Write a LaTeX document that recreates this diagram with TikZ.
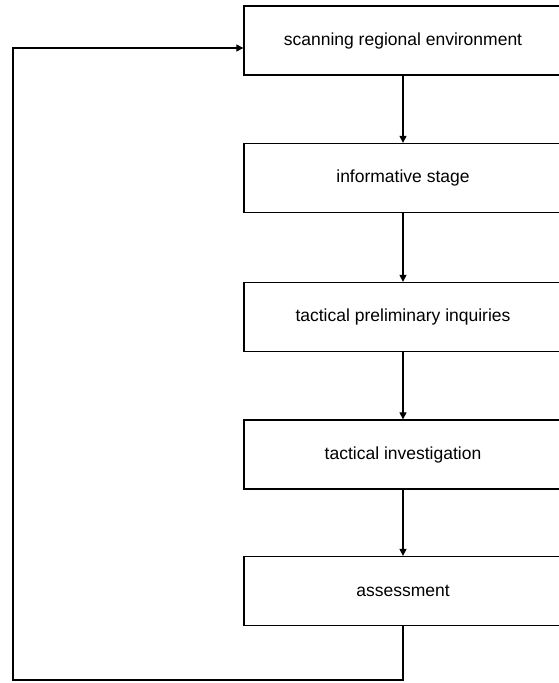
\documentclass[tikz,border=0pt]{standalone}
\usepackage{fontspec}
\setmainfont{Liberation Sans}
\usetikzlibrary{arrows.meta}
\begin{document}
\begin{tikzpicture}[x=1pt,y=-1pt,
  stagebox/.style={draw, line width=1.3pt, minimum width=318pt, minimum height=69pt,
    inner sep=0pt, font=\fontsize{17.5}{20}\selectfont, anchor=center},
  link/.style={line width=1.2pt, -{Triangle[length=7pt,width=7pt]}}]
\useasboundingbox (0,0) rectangle (559,683);
\clip (0,0) rectangle (559,683);
\fill[white] (0,0) rectangle (559,683);
\node[stagebox] (a) at (403,40.5) {scanning regional environment};
\node[stagebox] (b) at (403,178) {informative stage};
\node[stagebox] (c) at (403,317) {tactical preliminary inquiries};
\node[stagebox] (d) at (403,454.5) {tactical investigation};
\node[stagebox] (e) at (403,591) {assessment};
\coordinate (fbL) at (13,680);
\coordinate (fbIn) at ([yshift=-7.5pt]a.west);
\draw[link] (a.south) -- (b.north);
\draw[link] (b.south) -- (c.north);
\draw[link] (c.south) -- (d.north);
\draw[link] (d.south) -- (e.north);
\draw[link] (e.south) |- (fbL) |- (fbIn);
\end{tikzpicture}
\end{document}
